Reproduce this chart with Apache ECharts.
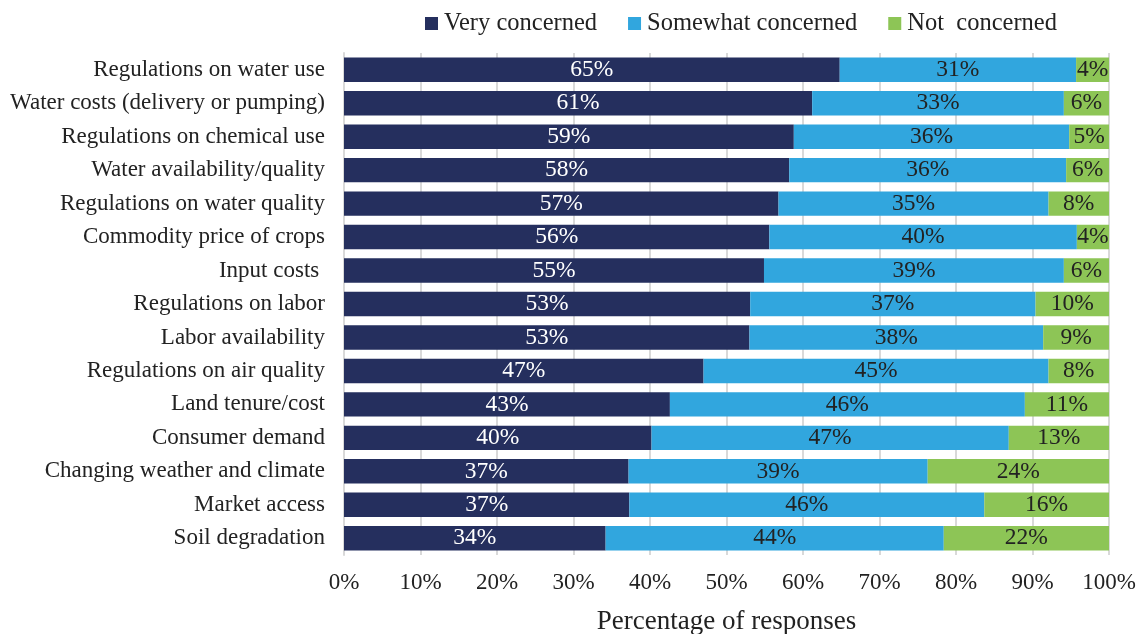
<!DOCTYPE html>
<html>
<head>
<meta charset="utf-8">
<script src="https://cdn.jsdelivr.net/npm/echarts@6/dist/echarts.min.js"></script>
<style>html,body{margin:0;padding:0;background:#fff;overflow:hidden;}#c{width:1137px;height:634px;}</style>
</head>
<body>
<div id="c"></div>
<script>
const categories = [
  "Regulations on water use",
  "Water costs (delivery or pumping)",
  "Regulations on chemical use",
  "Water availability/quality",
  "Regulations on water quality",
  "Commodity price of crops",
  "Input costs ",
  "Regulations on labor",
  "Labor availability",
  "Regulations on air quality",
  "Land tenure/cost",
  "Consumer demand",
  "Changing weather and climate",
  "Market access",
  "Soil degradation"
];
// percentages; labels show them rounded
const veryConcerned =     [64.8, 61.2, 58.8, 58.2, 56.8, 55.6, 54.9, 53.1, 53.0, 47.0, 42.6, 40.2, 37.2, 37.3, 34.2];
const somewhatConcerned = [30.9, 32.9, 36.0, 36.2, 35.3, 40.2, 39.2, 37.3, 38.4, 45.1, 46.4, 46.7, 39.1, 46.4, 44.2];
const notConcerned =      [4.3, 5.9, 5.2, 5.6, 7.9, 4.2, 5.9, 9.6, 8.6, 7.9, 11.0, 13.1, 23.7, 16.3, 21.6];
const seriesNames = ["Very concerned", "Somewhat concerned", "Not  concerned"];
const tickLabels = ["0%","10%","20%","30%","40%","50%","60%","70%","80%","90%","100%"];

const FONT = "Liberation Serif";
const colors = ["#252F5E", "#31A6DE", "#8DC556"];
const labelColors = ["#ffffff", "#222222", "#222222"];
const dataSets = [veryConcerned, somewhatConcerned, notConcerned];

const chart = echarts.init(document.getElementById('c'));
chart.setOption({
  animation: false,
  textStyle: { fontFamily: FONT },
  legend: {
    top: 6,
    left: 420,
    itemWidth: 13,
    itemHeight: 13,
    itemGap: 31,
    icon: 'rect',
    textStyle: { fontFamily: FONT, fontSize: 24.5, color: '#222', padding: [0, 0, 0, 1] },
    data: seriesNames
  },
  grid: { left: 344, right: 28, top: 53, bottom: 79, outerBoundsMode: 'none', containLabel: false },
  xAxis: {
    type: 'value',
    min: 0, max: 100, interval: 10,
    name: 'Percentage of responses',
    nameLocation: 'middle',
    nameGap: 53,
    nameTextStyle: { fontFamily: FONT, fontSize: 27, color: '#222' },
    axisLine: { show: false },
    axisTick: { show: false },
    axisLabel: {
      fontFamily: FONT, fontSize: 23, color: '#222', margin: 16,
      formatter: v => tickLabels[Math.round(v / 10)]
    },
    splitLine: { show: true, lineStyle: { color: '#d9d9d9', width: 2 } }
  },
  yAxis: {
    type: 'category',
    inverse: true,
    data: categories,
    axisLine: { show: true, lineStyle: { color: '#d9d9d9', width: 2 } },
    axisTick: { show: false },
    axisLabel: { fontFamily: FONT, fontSize: 23, color: '#222', margin: 19 }
  },
  series: dataSets.map((d, i) => ({
    name: seriesNames[i],
    type: 'bar',
    stack: 'total',
    barCategoryGap: '27%',
    data: d,
    itemStyle: { color: colors[i] },
    label: {
      show: true,
      position: 'inside',
      fontFamily: FONT,
      fontSize: 23.5,
      color: labelColors[i],
      formatter: p => Math.round(p.value) + '%'
    }
  }))
});
</script>
</body>
</html>
